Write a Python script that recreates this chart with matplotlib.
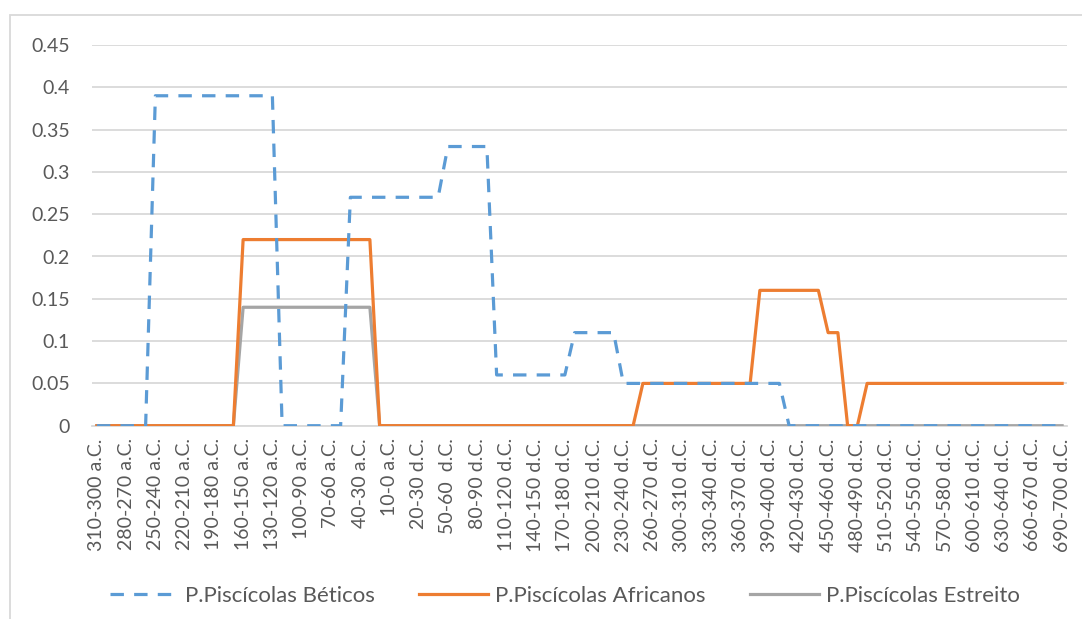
import matplotlib.pyplot as plt
from matplotlib.patches import Rectangle

plt.rcParams['font.family'] = ['Lato', 'DejaVu Sans']

# categorias (decadas)
categorias = [
    '310-300 a.C.', '300-290 a.C.', '290-280 a.C.', '280-270 a.C.', '270-260 a.C.',
    '260-250 a.C.', '250-240 a.C.', '240-230 a.C.', '230-220 a.C.', '220-210 a.C.',
    '210-200 a.C.', '200-190 a.C.', '190-180 a.C.', '180-170 a.C.', '170-160 a.C.',
    '160-150 a.C.', '150-140 a.C.', '140-130 a.C.', '130-120 a.C.', '120-110 a.C.',
    '110-100 a.C.', '100-90 a.C.', '90-80 a.C.', '80-70 a.C.', '70-60 a.C.',
    '60-50 a.C.', '50-40 a.C.', '40-30 a.C.', '30-20 a.C.', '20-10 a.C.',
    '10-0 a.C.', '0-10 d.C.', '10-20 d.C.', '20-30 d.C.', '30-40 d.C.',
    '40-50 d.C.', '50-60  d.C.', '60-70 d.C.', '70-80 d.C.', '80-90 d.C.',
    '90-100 d.C.', '100-110 d.C.', '110-120 d.C.', '120-130 d.C.', '130-140 d.C.',
    '140-150 d.C.', '150-160 d.C.', '160-170 d.C.', '170-180 d.C.', '180-190 d.C.',
    '190-200 d.C.', '200-210 d.C.', '210-220 d.C.', '220-230 d.C.', '230-240 d.C.',
    '240-250 d.C.', '250-260 d.C.', '260-270 d.C.', '270-280 d.C.', '280-290 d.C.',
    '300-310 d.C.', '310-320 d.C.', '320-330 d.C.', '330-340 d.C.', '340-350 d.C.',
    '350-360 d.C.', '360-370 d.C.', '370-380 d.C.', '380-390 d.C.', '390-400 d.C.',
    '400-410 d.C.', '410-420 d.C.', '420-430 d.C.', '430-440 d.C.', '440-450 d.C.',
    '450-460 d.C.', '460-470 d.C.', '470-480 d.C.', '480-490 d.C.', '490-500 d.C.',
    '500-510 d.C.', '510-520 d.C.', '520-530 d.C.', '530-540 d.C.', '540-550 d.C.',
    '550-560 d.C.', '560-570 d.C.', '570-580 d.C.', '580-590 d.C.', '590-600 d.C.',
    '600-610 d.C.', '610-620 d.C.', '620-630 d.C.', '630-640 d.C.', '640-650 d.C.',
    '650-660 d.C.', '660-670 d.C.', '670-680 d.C.', '680-690 d.C.', '690-700 d.C.',
]

beticos = [
    0, 0, 0, 0, 0, 0, 0.39, 0.39, 0.39, 0.39,
    0.39, 0.39, 0.39, 0.39, 0.39, 0.39, 0.39, 0.39, 0.39, 0,
    0, 0, 0, 0, 0, 0, 0.27, 0.27, 0.27, 0.27,
    0.27, 0.27, 0.27, 0.27, 0.27, 0.27, 0.33, 0.33, 0.33, 0.33,
    0.33, 0.06, 0.06, 0.06, 0.06, 0.06, 0.06, 0.06, 0.06, 0.11,
    0.11, 0.11, 0.11, 0.11, 0.05, 0.05, 0.05, 0.05, 0.05, 0.05,
    0.05, 0.05, 0.05, 0.05, 0.05, 0.05, 0.05, 0.05, 0.05, 0.05,
    0.05, 0, 0, 0, 0, 0, 0, 0, 0, 0,
    0, 0, 0, 0, 0, 0, 0, 0, 0, 0,
    0, 0, 0, 0, 0, 0, 0, 0, 0, 0,
]

africanos = [
    0, 0, 0, 0, 0, 0, 0, 0, 0, 0,
    0, 0, 0, 0, 0, 0.22, 0.22, 0.22, 0.22, 0.22,
    0.22, 0.22, 0.22, 0.22, 0.22, 0.22, 0.22, 0.22, 0.22, 0,
    0, 0, 0, 0, 0, 0, 0, 0, 0, 0,
    0, 0, 0, 0, 0, 0, 0, 0, 0, 0,
    0, 0, 0, 0, 0, 0, 0.05, 0.05, 0.05, 0.05,
    0.05, 0.05, 0.05, 0.05, 0.05, 0.05, 0.05, 0.05, 0.16, 0.16,
    0.16, 0.16, 0.16, 0.16, 0.16, 0.11, 0.11, 0, 0, 0.05,
    0.05, 0.05, 0.05, 0.05, 0.05, 0.05, 0.05, 0.05, 0.05, 0.05,
    0.05, 0.05, 0.05, 0.05, 0.05, 0.05, 0.05, 0.05, 0.05, 0.05,
]

estreito = [
    0, 0, 0, 0, 0, 0, 0, 0, 0, 0,
    0, 0, 0, 0, 0, 0.14, 0.14, 0.14, 0.14, 0.14,
    0.14, 0.14, 0.14, 0.14, 0.14, 0.14, 0.14, 0.14, 0.14, 0,
    0, 0, 0, 0, 0, 0, 0, 0, 0, 0,
    0, 0, 0, 0, 0, 0, 0, 0, 0, 0,
    0, 0, 0, 0, 0, 0, 0, 0, 0, 0,
    0, 0, 0, 0, 0, 0, 0, 0, 0, 0,
    0, 0, 0, 0, 0, 0, 0, 0, 0, 0,
    0, 0, 0, 0, 0, 0, 0, 0, 0, 0,
    0, 0, 0, 0, 0, 0, 0, 0, 0, 0,
]

gris_texto = '#595959'
gris_rejilla = '#D9D9D9'

fig = plt.figure(figsize=(10.82, 6.19), dpi=100)
ax = fig.add_axes([92 / 1082, 1 - 425.7 / 619, 975 / 1082, (425.7 - 45) / 619])

x = list(range(len(categorias)))
ax.plot(x, estreito, color='#A5A5A5', lw=2.3, label='P.Piscícolas Estreito', zorder=3)
ax.plot(x, africanos, color='#ED7D31', lw=2.3, label='P.Piscícolas Africanos', zorder=4)
ax.plot(x, beticos, color='#5B9BD5', lw=2.3, dashes=(4.2, 3.2), label='P.Piscícolas Béticos',
        zorder=5, dash_capstyle='butt')

ax.set_xlim(-0.5, len(categorias) - 0.5)
ax.set_ylim(0, 0.45)
ax.set_yticks([0, 0.05, 0.1, 0.15, 0.2, 0.25, 0.3, 0.35, 0.4, 0.45])
ax.set_yticklabels(['0', '0.05', '0.1', '0.15', '0.2', '0.25', '0.3', '0.35', '0.4', '0.45'])
ax.set_xticks(x[::3])
ax.set_xticklabels(categorias[::3], rotation=90)
ax.tick_params(axis='both', length=0, colors=gris_texto, labelsize=14)
ax.tick_params(axis='y', pad=16)
ax.tick_params(axis='x', pad=9)
ax.grid(axis='y', color=gris_rejilla, lw=1.3)
ax.set_axisbelow(True)
for lado in ['top', 'right', 'left']:
    ax.spines[lado].set_visible(False)
ax.spines['bottom'].set_color(gris_rejilla)
ax.spines['bottom'].set_linewidth(1.3)

# orden de la leyenda como en el original
h, l = ax.get_legend_handles_labels()
orden = [2, 1, 0]
leg = fig.legend([h[i] for i in orden], [l[i] for i in orden], loc='center',
                 bbox_to_anchor=(564.5 / 1082, 1 - 596 / 619), ncol=3, frameon=False,
                 fontsize=16, handlelength=3.1, columnspacing=2.0, handletextpad=0.3)
for t in leg.get_texts():
    t.set_color(gris_texto)

# borde del area del grafico
fig.patches.append(Rectangle((10 / 1082, -0.1), 1.2, 1 - 15 / 619 + 0.1,
                             transform=fig.transFigure, fill=False,
                             edgecolor=gris_rejilla, lw=1.3))

fig.savefig('out.png', dpi=100)
